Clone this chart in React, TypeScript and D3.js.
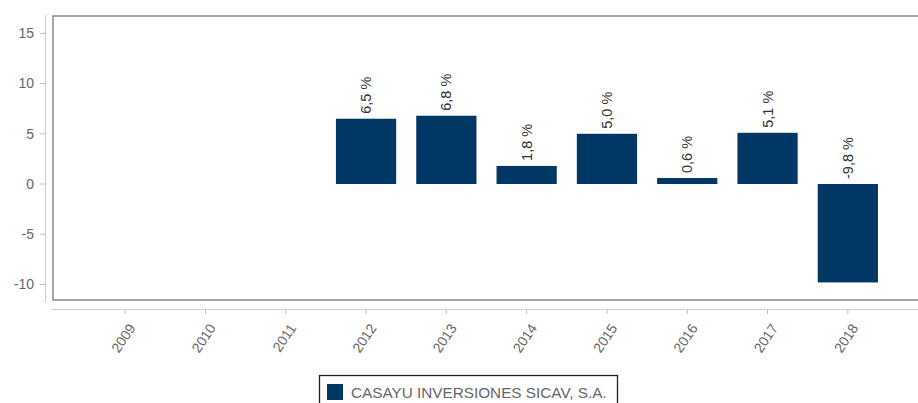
import * as d3 from "d3";

// Annual returns (%)
const years = ["2009", "2010", "2011", "2012", "2013", "2014", "2015", "2016", "2017", "2018"];
const returns: (number | null)[] = [null, null, null, 6.5, 6.8, 1.8, 5.0, 0.6, 5.1, -9.8];
const yTicks = [-10, -5, 0, 5, 10, 15];
const seriesName = "CASAYU INVERSIONES SICAV, S.A.";

const W = 918;
const H = 403;
const BAR = "#003764";
const FONT = "'Liberation Sans', Arial, sans-serif";

export default function App() {
  const x = d3
    .scaleBand<string>()
    .domain(years)
    .range([85, 888])
    .paddingInner(0.25)
    .paddingOuter(0.125);

  const y = d3.scaleLinear().domain([-11.55, 16.73]).range([300, 16]);
  // spanish style decimals, plain hyphen for negatives
  const fmt = (v: number) => d3.format(".1f")(v).replace(".", ",").replace("\u2212", "-") + " %";

  return (
    <svg
      width={W}
      height={H}
      style={{ position: "absolute", left: 0, top: 0, background: "#fff", fontFamily: FONT }}
    >
      {/* plot frame */}
      <rect x={53} y={16} width={W} height={284} fill="none" stroke="#8a8a8a" strokeWidth={1.5} />

      {/* y axis */}
      <line x1={45.5} x2={45.5} y1={15} y2={302} stroke="#cfcfcf" strokeWidth={1.2} />
      {yTicks.map((t) => (
        <g key={t} transform={`translate(0,${y(t)})`}>
          <line x1={40} x2={45.5} stroke="#bdbdbd" />
          <text x={34} dy="0.35em" textAnchor="end" fontSize={14} fill="#666">
            {t}
          </text>
        </g>
      ))}

      {/* x axis */}
      <line x1={52} x2={W} y1={309.5} y2={309.5} stroke="#cfcfcf" strokeWidth={1.2} />
      {years.map((yr) => {
        const cx = (x(yr) ?? 0) + x.bandwidth() / 2;
        return (
          <g key={yr}>
            <line x1={cx} x2={cx} y1={309.5} y2={314} stroke="#bdbdbd" />
            <text
              transform={`translate(${cx + 11},${328}) rotate(-56)`}
              textAnchor="end"
              fontSize={14}
              fill="#666"
            >
              {yr}
            </text>
          </g>
        );
      })}

      {/* bars */}
      {years.map((yr, i) => {
        const v = returns[i];
        if (v == null) return null;
        const bx = x(yr) ?? 0;
        const cx = bx + x.bandwidth() / 2;
        const top = y(Math.max(0, v));
        const bottom = y(Math.min(0, v));
        return (
          <g key={yr}>
            <rect x={bx} y={top} width={x.bandwidth()} height={bottom - top} fill={BAR} />
            <text
              transform={`translate(${cx + 5},${top - 5}) rotate(-90)`}
              textAnchor="start"
              fontSize={14.5}
              fill="#333"
            >
              {fmt(v)}
            </text>
          </g>
        );
      })}

      {/* legend */}
      <rect x={319.5} y={375.5} width={298} height={40} fill="#fff" stroke="#222" strokeWidth={1.3} />
      <rect x={327} y={384} width={16} height={16} fill={BAR} />
      <text x={351} y={397.5} fontSize={15.3} fill="#666">
        {seriesName}
      </text>
    </svg>
  );
}
